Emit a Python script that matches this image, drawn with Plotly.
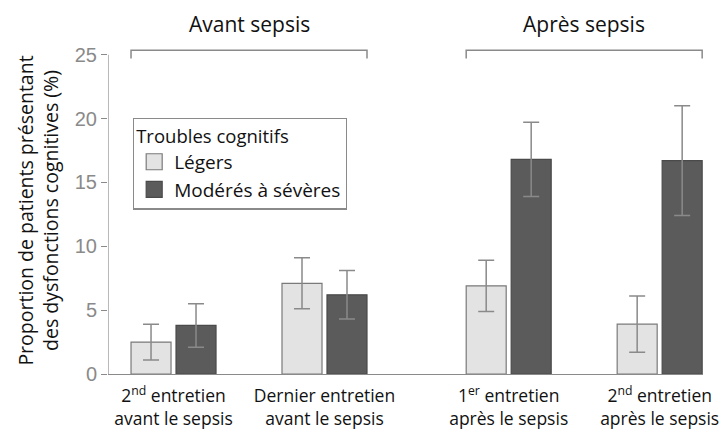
import plotly.graph_objects as go

categories = ["2<sup>nd</sup> entretien<br>avant le sepsis",
              "Dernier entretien<br>avant le sepsis",
              "1<sup>er</sup> entretien<br>après le sepsis",
              "2<sup>nd</sup> entretien<br>après le sepsis"]
positions = [0, 1, 2.22, 3.22]
legers = [2.5, 7.1, 6.9, 3.9]
legers_err = [1.4, 2.0, 2.0, 2.2]
moderes = [3.8, 6.2, 16.8, 16.7]
moderes_err = [1.7, 1.9, 2.9, 4.3]
y_ticks = [0, 5, 10, 15, 20, 25]
groups = ["Avant sepsis", "Après sepsis"]
series_names = ["Légers", "Modérés à sévères"]

font = "Open Sans"
bw = 0.265
gap = 0.033
light = dict(color="#e3e3e3", line=dict(color="#7a7a7a", width=1.2))
dark = dict(color="#5b5b5b", line=dict(color="#4a4a4a", width=1.2))

fig = go.Figure()
fig.add_trace(go.Bar(
    x=positions, y=legers, name=series_names[0], width=bw, offset=-bw - gap / 2,
    marker=light, showlegend=False,
    error_y=dict(type="data", array=legers_err, color="#8a8a8a", thickness=1.5, width=8),
))
fig.add_trace(go.Bar(
    x=positions, y=moderes, name=series_names[1], width=bw, offset=gap / 2,
    marker=dict(dark), showlegend=False,
    error_y=dict(type="data", array=moderes_err, color="#8a8a8a", thickness=1.5, width=8),
))
# legend entries with larger square swatches
for nm, mk in zip(series_names, [light, dark]):
    fig.add_trace(go.Scatter(
        x=[None], y=[None], mode="markers", name=nm,
        marker=dict(symbol="square", size=16, color=mk["color"],
                    line=dict(color=mk["line"]["color"], width=1.2)),
    ))

ymax = 25.6
xmin = -0.434
# y-axis line from 0 to 25
fig.add_shape(type="line", xref="x", yref="y", x0=xmin, x1=xmin, y0=0, y1=25,
              line=dict(color="#8a8a8a", width=1.2))

# brackets
for i, (a, b) in enumerate([(0, 1), (2, 3)]):
    x0 = positions[a] - bw - gap / 2
    x1 = positions[b] + bw + gap / 2
    yb = 25.35
    yt = 24.7
    fig.add_shape(type="path", xref="x", yref="y",
                  path=f"M {x0},{yt} L {x0},{yb} L {x1},{yb} L {x1},{yt}",
                  line=dict(color="#8a8a8a", width=1.5))
    fig.add_annotation(x=(x0 + x1) / 2, xref="x", y=1.0 + 23 / 327, yref="paper",
                       text=groups[i], showarrow=False, yanchor="middle",
                       font=dict(family=font, size=21, color="#111"))

fig.update_layout(
    width=728, height=432,
    margin=dict(l=108, r=25, t=47, b=58, autoexpand=False),
    plot_bgcolor="white", paper_bgcolor="white",
    showlegend=True,
    legend=dict(
        title=dict(text="Troubles cognitifs", font=dict(family=font, size=18.5, color="#111")),
        font=dict(family=font, size=19, color="#111"),
        x=0.042, y=0.784, xanchor="left", yanchor="top",
        bordercolor="#8a8a8a", borderwidth=1.2, bgcolor="white",
        itemsizing="trace", itemwidth=30, tracegroupgap=0,
    ),
    xaxis=dict(
        range=[xmin, 3.507], tickvals=positions, ticktext=categories,
        showline=True, linecolor="#8a8a8a", linewidth=1.2, ticks="",
        showgrid=False, zeroline=False, automargin=False, ticklabelstandoff=6,
        tickfont=dict(family=font, size=17.5, color="#111"),
    ),
    yaxis=dict(
        range=[0, ymax], tickvals=y_ticks, showline=False, showgrid=False, zeroline=False,
        ticks="outside", ticklen=6, tickcolor="#8a8a8a", tickwidth=1.2, automargin=False,
        tickfont=dict(family="Liberation Sans", size=20, color="#8a8a8a"),
        title=dict(text="Proportion de patients présentant<br>des dysfonctions cognitives (%)",
                   font=dict(family=font, size=19.5, color="#111"), standoff=10),
    ),
)

fig.write_html("out.html", config={"displayModeBar": False},
               post_script="document.body.style.margin='0px';")
